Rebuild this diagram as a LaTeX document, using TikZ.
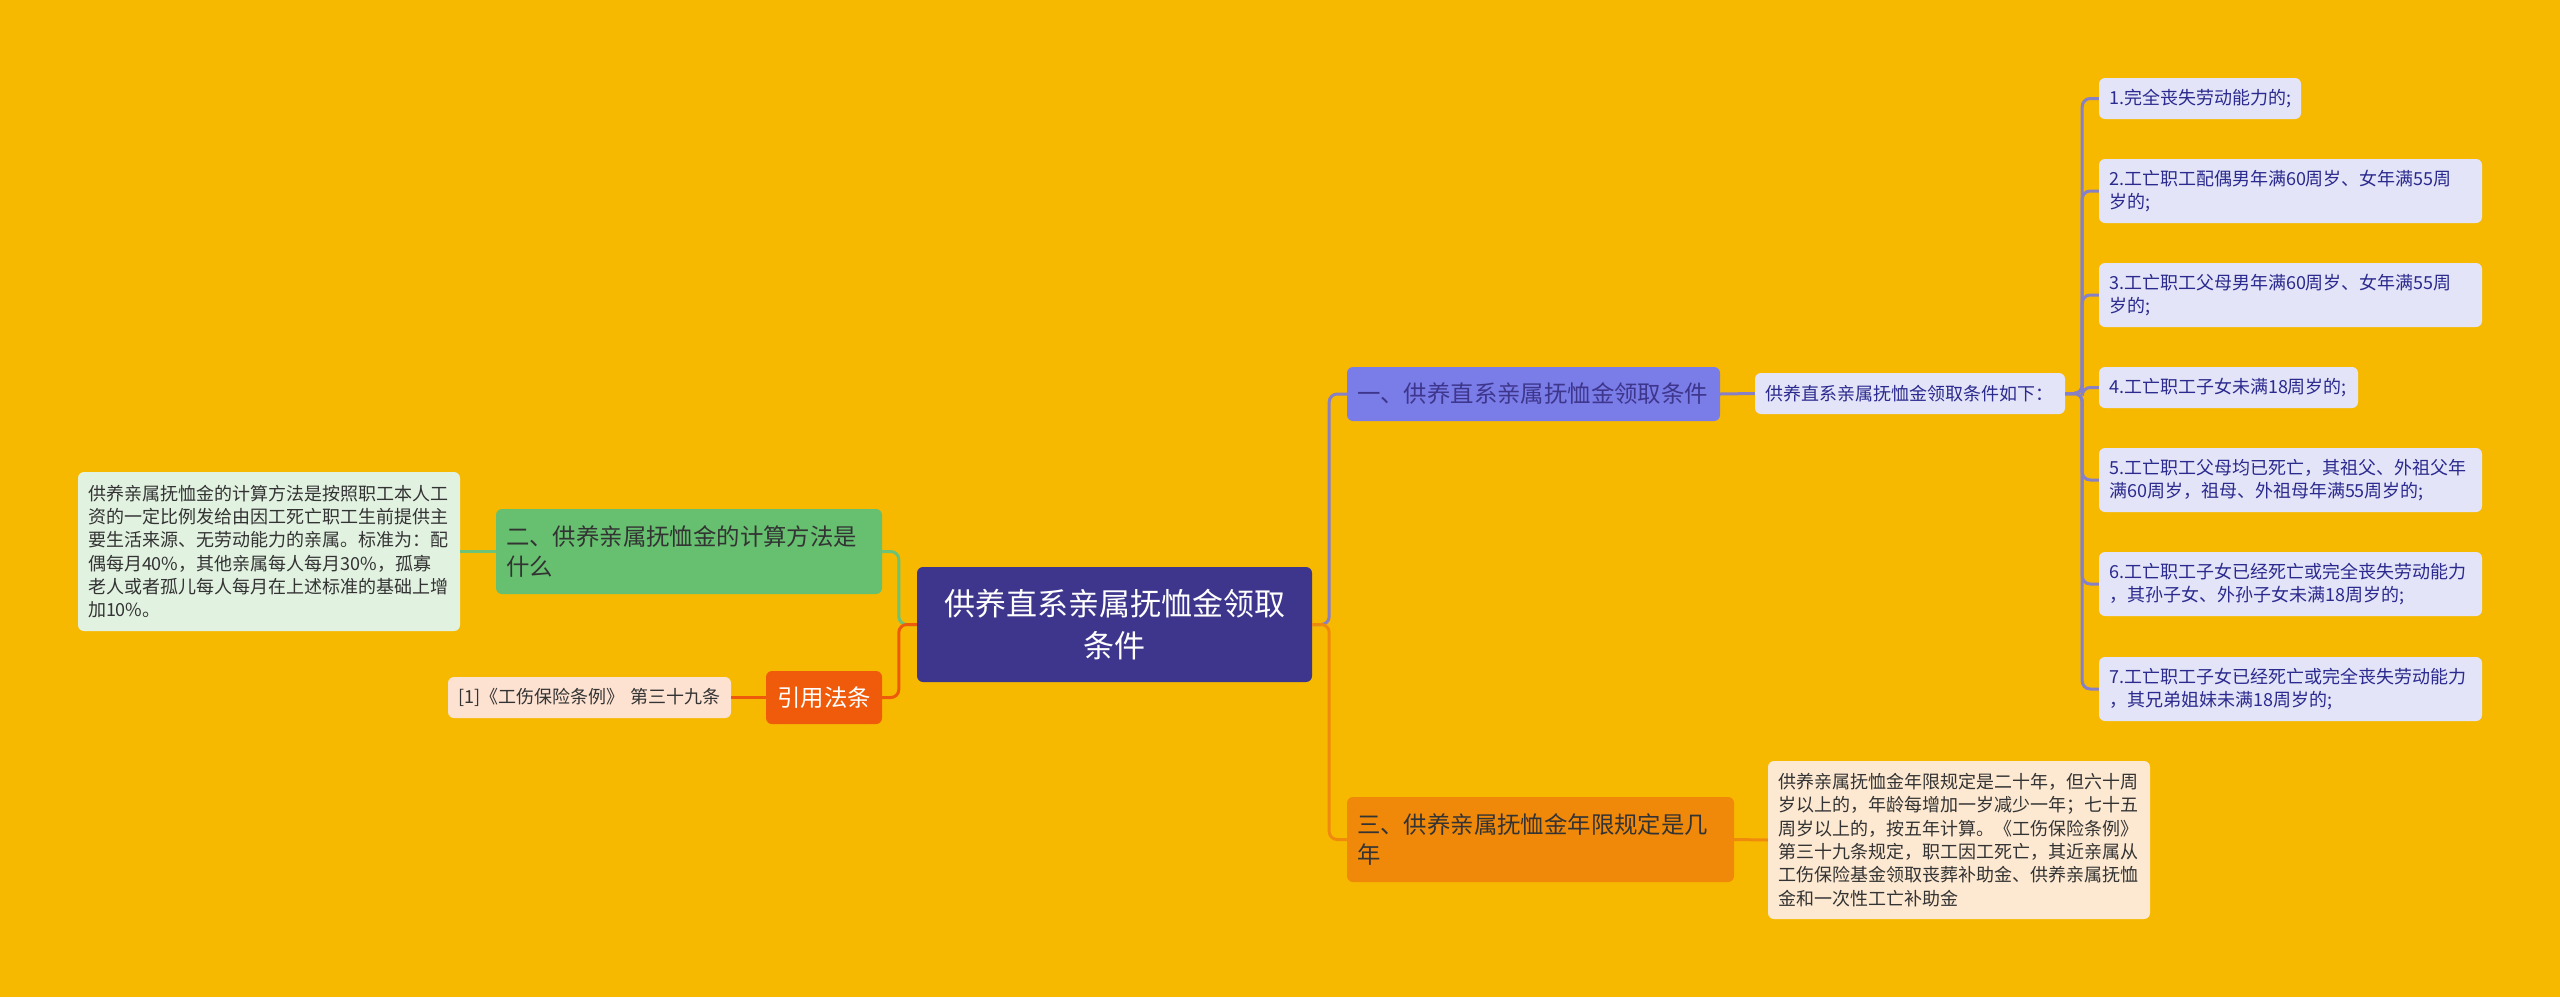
\documentclass[tikz,border=0pt]{standalone}
\usepackage{fontspec}
\setmainfont{Noto Sans CJK SC}
\usepackage{tikz}
\definecolor{bgamber}{RGB}{246,185,0}
\definecolor{rootc}{RGB}{62,54,140}
\definecolor{bluetopic}{RGB}{122,124,232}
\definecolor{blueleaf}{RGB}{228,228,248}
\definecolor{blueline}{RGB}{136,128,198}
\definecolor{bluetext}{RGB}{43,42,142}
\definecolor{greentopic}{RGB}{103,192,112}
\definecolor{greenleaf}{RGB}{226,242,225}
\definecolor{greenline}{RGB}{109,194,118}
\definecolor{orangetopic}{RGB}{240,136,10}
\definecolor{orangeleaf}{RGB}{253,233,210}
\definecolor{orangeline}{RGB}{240,138,12}
\definecolor{redtopic}{RGB}{240,91,11}
\definecolor{redleaf}{RGB}{253,226,210}
\definecolor{redline}{RGB}{238,90,12}
\definecolor{darktext}{RGB}{51,51,51}
\tikzset{
  mmnode/.style = {rounded corners=6pt, inner xsep=10pt, inner ysep=0pt, align=left},
  mm_root/.style = {mmnode, fill=rootc, text=white, align=center, font=\fontsize{31}{42}\selectfont},
  mm_topic/.style = {mmnode, font=\fontsize{23.4}{30}\selectfont},
  mm_leaf/.style = {mmnode, font=\fontsize{18}{23.3}\selectfont},
  link/.style = {line width=3pt, rounded corners=8pt},
}

\begin{document}
\begin{tikzpicture}[x=1pt, y=-1pt]
  \fill[bgamber] (0,0) rectangle (2560,997);
  \useasboundingbox (0,0) rectangle (2560,997);

  \node [mm_root, text width=375pt, minimum height=115pt] (root) at (1114.5,624.5) {供养直系亲属抚恤金领取\\条件};

  % right side
  \node [mm_topic, fill=bluetopic, text=rootc, text width=353pt, minimum height=54pt] (one) at (1533.5,394) {一、供养直系亲属抚恤金领取条件};
  \node [mm_leaf, fill=blueleaf, text=bluetext, text width=290pt, minimum height=41pt] (onesub) at (1910,393.5) {供养直系亲属抚恤金领取条件如下：};
  \node [mm_leaf, fill=blueleaf, text=bluetext, text width=182pt, minimum height=41pt] (c1) at (2200,98.5) {1.完全丧失劳动能力的;};
  \node [mm_leaf, fill=blueleaf, text=bluetext, text width=363pt, minimum height=64pt] (c2) at (2290.5,191) {2.工亡职工配偶男年满60周岁、女年满55周\\岁的;};
  \node [mm_leaf, fill=blueleaf, text=bluetext, text width=363pt, minimum height=64pt] (c3) at (2290.5,295) {3.工亡职工父母男年满60周岁、女年满55周\\岁的;};
  \node [mm_leaf, fill=blueleaf, text=bluetext, text width=239pt, minimum height=41pt] (c4) at (2228.5,387.5) {4.工亡职工子女未满18周岁的;};
  \node [mm_leaf, fill=blueleaf, text=bluetext, text width=363pt, minimum height=64pt] (c5) at (2290.5,480) {5.工亡职工父母均已死亡，其祖父、外祖父年\\满60周岁，祖母、外祖母年满55周岁的;};
  \node [mm_leaf, fill=blueleaf, text=bluetext, text width=363pt, minimum height=64pt] (c6) at (2290.5,584) {6.工亡职工子女已经死亡或完全丧失劳动能力\\，其孙子女、外孙子女未满18周岁的;};
  \node [mm_leaf, fill=blueleaf, text=bluetext, text width=363pt, minimum height=64pt] (c7) at (2290.5,689) {7.工亡职工子女已经死亡或完全丧失劳动能力\\，其兄弟姐妹未满18周岁的;};

  \node [mm_topic, fill=orangetopic, text=darktext, text width=367pt, minimum height=85pt] (three) at (1540.5,839.5) {三、供养亲属抚恤金年限规定是几\\年};
  \node [mm_leaf, fill=orangeleaf, text=darktext, text width=362pt, minimum height=158pt] (threenote) at (1959,840) {供养亲属抚恤金年限规定是二十年，但六十周\\岁以上的，年龄每增加一岁减少一年；七十五\\周岁以上的，按五年计算。《工伤保险条例》\\第三十九条规定，职工因工死亡，其近亲属从\\工伤保险基金领取丧葬补助金、供养亲属抚恤\\金和一次性工亡补助金};

  % left side
  \node [mm_topic, fill=greentopic, text=darktext, text width=366pt, minimum height=85pt] (two) at (689,551.5) {二、供养亲属抚恤金的计算方法是\\什么};
  \node [mm_leaf, fill=greenleaf, text=darktext, text width=362pt, minimum height=159pt] (twonote) at (269,551.5) {供养亲属抚恤金的计算方法是按照职工本人工\\资的一定比例发给由因工死亡职工生前提供主\\要生活来源、无劳动能力的亲属。标准为：配\\偶每月40\%，其他亲属每人每月30\%，孤寡\\老人或者孤儿每人每月在上述标准的基础上增\\加10\%。};
  \node [mm_topic, fill=redtopic, text=white, align=center, text width=96pt, minimum height=53pt] (cite) at (824,697.5) {引用法条};
  \node [mm_leaf, fill=redleaf, text=darktext, text width=263pt, minimum height=41pt] (citeref) at (589.5,697.5) {[1]《工伤保险条例》 第三十九条};

  % connectors
  \draw [link, draw=blueline] (root.east) -- ++(17,0) |- (one.west);
  \draw [link, draw=orangeline] (root.east) -- ++(17,0) |- (three.west);
  \draw [link, draw=greenline] (root.west) -- ++(-18,0) |- (two.east);
  \draw [link, draw=redline] (root.west) -- ++(-18,0) |- (cite.east);
  \draw [link, draw=blueline] (one.east) -- (onesub.west);
  \draw [link, draw=blueline] (onesub.east) -- ++(17,0) |- (c1.west);
  \draw [link, draw=blueline] (onesub.east) -- ++(17,0) |- (c2.west);
  \draw [link, draw=blueline] (onesub.east) -- ++(17,0) |- (c3.west);
  \draw [link, draw=blueline] (onesub.east) -- ++(17,0) |- (c4.west);
  \draw [link, draw=blueline] (onesub.east) -- ++(17,0) |- (c5.west);
  \draw [link, draw=blueline] (onesub.east) -- ++(17,0) |- (c6.west);
  \draw [link, draw=blueline] (onesub.east) -- ++(17,0) |- (c7.west);
  \draw [link, draw=orangeline] (three.east) -- (threenote.west);
  \draw [link, draw=greenline] (two.west) -- (twonote.east);
  \draw [link, draw=redline] (cite.west) -- (citeref.east);
\end{tikzpicture}
\end{document}
